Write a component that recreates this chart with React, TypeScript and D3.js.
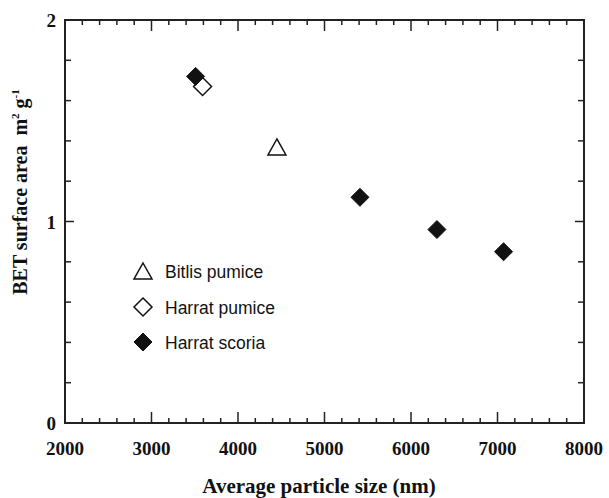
import React from "react";
import * as d3 from "d3";

// Average particle size (nm) vs BET surface area (m² g⁻¹)
const bitlisPumiceX = [4450];
const bitlisPumiceY = [1.37];
const harratPumiceX = [3590];
const harratPumiceY = [1.67];
const harratScoriaX = [3510, 5410, 6300, 7070];
const harratScoriaY = [1.72, 1.12, 0.96, 0.85];

const xTickLabels = [2000, 3000, 4000, 5000, 6000, 7000, 8000];
const yTickLabels = [0, 1, 2];
const legendLabels = ["Bitlis pumice", "Harrat pumice", "Harrat scoria"];

const W = 609;
const H = 498;
const L = 65, R = 584, T = 20, B = 423;

const x = d3.scaleLinear().domain([2000, 8000]).range([L, R]);
const y = d3.scaleLinear().domain([0, 2]).range([B, T]);

const serif = "'Liberation Serif', 'Times New Roman', serif";
const sans = "'Liberation Sans', Arial, sans-serif";
const ink = "#222";

function diamond(cx: number, cy: number, r: number) {
  return `M${cx},${cy - r}L${cx + r},${cy}L${cx},${cy + r}L${cx - r},${cy}Z`;
}
function triangle(cx: number, cy: number, w: number, h: number) {
  return `M${cx},${cy - h / 2}L${cx + w / 2},${cy + h / 2}L${cx - w / 2},${cy + h / 2}Z`;
}

export default function App() {
  const xMinor = d3.range(2000, 8001, 200);
  const yMinor = d3.range(0, 2.001, 0.2);
  const isMajorX = (v: number) => Math.abs(v % 1000) < 1e-6;
  const isMajorY = (v: number) => Math.abs(v - Math.round(v)) < 1e-6;

  return (
    <svg width={W} height={H} style={{ position: "absolute", left: 0, top: 0, background: "#fff" }}>
      {/* x ticks, bottom and top, pointing inward */}
      {xMinor.map((v, i) => {
        const len = isMajorX(v) ? 11 : 5;
        const px = x(v);
        return (
          <g key={"xt" + i} stroke={ink} strokeWidth={1.5}>
            <line x1={px} x2={px} y1={B} y2={B - len} />
            <line x1={px} x2={px} y1={T} y2={T + len} />
          </g>
        );
      })}
      {/* y ticks, left and right, pointing inward */}
      {yMinor.map((v, i) => {
        const len = isMajorY(v) ? 9 : 6;
        const py = y(v);
        return (
          <g key={"yt" + i} stroke={ink} strokeWidth={1.5}>
            <line x1={L} x2={L + len} y1={py} y2={py} />
            <line x1={R} x2={R - len} y1={py} y2={py} />
          </g>
        );
      })}
      {/* frame */}
      <rect x={L} y={T} width={R - L} height={B - T} fill="none" stroke={ink} strokeWidth={2} />

      {/* tick labels */}
      {xTickLabels.map((v) => (
        <text key={"xl" + v} x={x(v)} y={455} textAnchor="middle" fontFamily={serif}
          fontWeight="bold" fontSize={19} fill="#111">{v}</text>
      ))}
      {yTickLabels.map((v) => (
        <text key={"yl" + v} x={56} y={y(v) + 7} textAnchor="end" fontFamily={serif}
          fontWeight="bold" fontSize={19} fill="#111">{v}</text>
      ))}

      {/* axis titles */}
      <text x={319} y={493} textAnchor="middle" fontFamily={serif} fontWeight="bold"
        fontSize={21} fill="#111">Average particle size (nm)</text>
      <text transform="translate(27,192) rotate(-90)" textAnchor="middle" fontFamily={serif}
        fontWeight="bold" fontSize={20} fill="#111">
        BET surface area{"\u00A0\u00A0"}m<tspan fontSize={11} dy={-8}>2</tspan>
        <tspan dy={8}>{"\u00A0"}g</tspan><tspan fontSize={11} dy={-8}>-1</tspan>
      </text>

      {/* Bitlis pumice: open triangles */}
      {bitlisPumiceX.map((v, i) => (
        <path key={"bp" + i} d={triangle(x(v), y(bitlisPumiceY[i]), 18, 16)}
          fill="#fff" stroke="#111" strokeWidth={1.5} />
      ))}
      {/* Harrat pumice: open diamonds */}
      {harratPumiceX.map((v, i) => (
        <path key={"hp" + i} d={diamond(x(v), y(harratPumiceY[i]), 9)}
          fill="#fff" stroke="#111" strokeWidth={1.5} />
      ))}
      {/* Harrat scoria: filled diamonds */}
      {harratScoriaX.map((v, i) => (
        <path key={"hs" + i} d={diamond(x(v), y(harratScoriaY[i]), 9)}
          fill="#111" stroke="#111" strokeWidth={1} />
      ))}

      {/* legend */}
      <path d={triangle(143, 271, 18, 16)} fill="#fff" stroke="#111" strokeWidth={1.5} />
      <path d={diamond(143, 307, 9)} fill="#fff" stroke="#111" strokeWidth={1.5} />
      <path d={diamond(143, 342, 9)} fill="#111" stroke="#111" strokeWidth={1} />
      {legendLabels.map((t, i) => (
        <text key={"lg" + i} x={165} y={278 + i * 35.5} fontFamily={sans} fontSize={17.5}
          fill="#111">{t}</text>
      ))}
    </svg>
  );
}
